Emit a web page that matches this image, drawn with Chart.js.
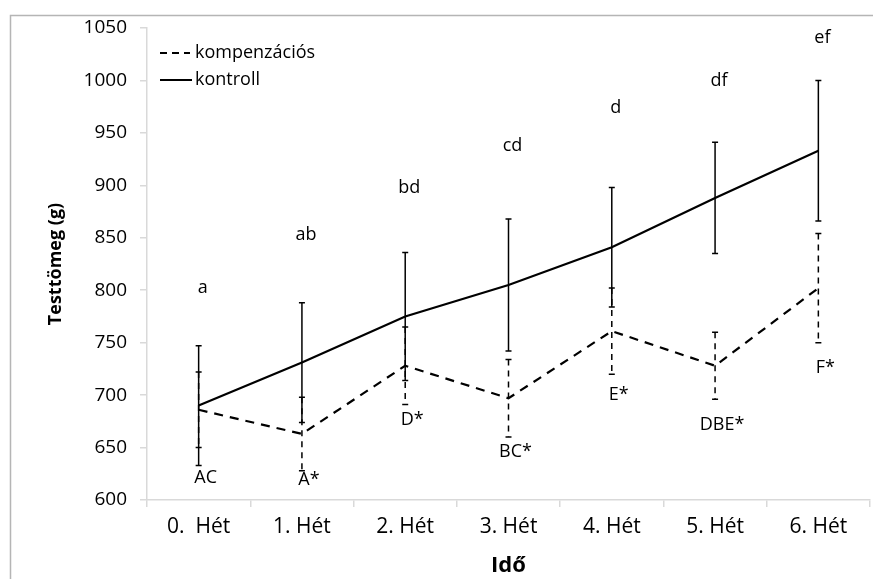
<!DOCTYPE html>
<html>
<head>
<meta charset="utf-8">
<script src="https://cdn.jsdelivr.net/npm/chart.js@4/dist/chart.umd.min.js"></script>
<style>
  html, body { margin: 0; padding: 0; background: #fff; }
</style>
</head>
<body>
<canvas id="myChart" width="873" height="579"></canvas>
<script>
var weeks = ['0.  Hét', '1. Hét', '2. Hét', '3. Hét', '4. Hét', '5. Hét', '6. Hét'];

var kompMean = [686, 663, 728, 697, 761, 728, 802];
var kompSd = [36, 35, 37, 37, 41, 32, 52];
var kontrollMean = [690, 731, 775, 805, 841, 888, 933];
var kontrollSd = [57, 57, 61, 63, 57, 53, 67];

// significance letters and the height (g) they sit at
var kontrollLetters = ['a', 'ab', 'bd', 'cd', 'd', 'df', 'ef'];
var kontrollLetterAt = [802, 853, 898, 938, 974, 1000, 1041];
var kompLetters = ['AC', 'A*', 'D*', 'BC*', 'E*', 'DBE*', 'F*'];
var kompLetterAt = [621, 619, 676, 646, 700, 672, 726];

var FONT = '"Open Sans", Lato, sans-serif';

var extras = {
  id: 'extras',
  beforeDraw: function (chart) {
    var c = chart.ctx;
    c.save();
    c.strokeStyle = '#b5b5b5';
    c.lineWidth = 1.5;
    c.beginPath();
    c.moveTo(10.5, 600);
    c.lineTo(10.5, 15.5);
    c.lineTo(880, 15.5);
    c.stroke();
    c.restore();
  },
  afterDatasetsDraw: function (chart) {
    var c = chart.ctx;
    var y = chart.scales.y;
    var sds = [kompSd, kontrollSd];
    c.save();
    // error bars
    chart.data.datasets.forEach(function (ds, d) {
      var meta = chart.getDatasetMeta(d);
      c.strokeStyle = '#000';
      c.lineWidth = 1.5;
      meta.data.forEach(function (pt, i) {
        var top = y.getPixelForValue(ds.data[i] + sds[d][i]);
        var bot = y.getPixelForValue(ds.data[i] - sds[d][i]);
        c.setLineDash(d === 0 ? [6, 5] : []);
        c.beginPath();
        c.moveTo(pt.x, top);
        c.lineTo(pt.x, bot);
        c.stroke();
        c.setLineDash([]);
        c.beginPath();
        c.moveTo(pt.x - 3, top);
        c.lineTo(pt.x + 3, top);
        c.moveTo(pt.x - 3, bot);
        c.lineTo(pt.x + 3, bot);
        c.stroke();
      });
    });
    // letters
    c.fillStyle = '#000';
    c.font = '18px ' + FONT;
    c.textAlign = 'center';
    c.textBaseline = 'middle';
    var meta1 = chart.getDatasetMeta(1);
    meta1.data.forEach(function (pt, i) {
      c.fillText(kontrollLetters[i], pt.x + 4, y.getPixelForValue(kontrollLetterAt[i]));
      c.fillText(kompLetters[i], pt.x + 7, y.getPixelForValue(kompLetterAt[i]));
    });
    // legend
    var a = chart.chartArea;
    c.lineWidth = 2;
    c.setLineDash([7, 5]);
    c.beginPath();
    c.moveTo(a.left + 13, 53);
    c.lineTo(a.left + 43, 53);
    c.stroke();
    c.setLineDash([]);
    c.beginPath();
    c.moveTo(a.left + 13, 80);
    c.lineTo(a.left + 45, 80);
    c.stroke();
    c.font = '18px ' + FONT;
    c.textAlign = 'left';
    c.fillText(chart.data.datasets[0].label, a.left + 48, 53);
    c.fillText(chart.data.datasets[1].label, a.left + 48, 80);
    c.restore();
  }
};

var ctx = document.getElementById('myChart');
var myChart = new Chart(ctx, {
  type: 'line',
  data: {
    labels: weeks,
    datasets: [
      {
        label: 'kompenzációs',
        data: kompMean,
        borderColor: '#000',
        borderWidth: 2.2,
        borderDash: [9, 7],
        pointRadius: 0,
        tension: 0
      },
      {
        label: 'kontroll',
        data: kontrollMean,
        borderColor: '#000',
        borderWidth: 2.2,
        pointRadius: 0,
        tension: 0
      }
    ]
  },
  options: {
    responsive: false,
    animation: false,
    layout: {
      padding: { left: 0, top: 28, right: 3, bottom: 0 }
    },
    plugins: {
      legend: { display: false },
      tooltip: { enabled: false }
    },
    scales: {
      x: {
        offset: true,
        grid: { offset: true, drawOnChartArea: false, color: '#d9d9d9', tickLength: 7, lineWidth: 1.5 },
        border: { color: '#d9d9d9', width: 1.5 },
        ticks: { color: '#000', padding: 7, font: { family: FONT, size: 21 }, maxRotation: 0 },
        title: {
          display: true,
          text: 'Idő',
          color: '#000',
          font: { family: FONT, size: 22, weight: 'bold', lineHeight: 1.1 },
          padding: { top: 0, bottom: 1 }
        },
        afterFit: function (s) { s.height = 79; }
      },
      y: {
        min: 600,
        max: 1050,
        grid: { drawOnChartArea: false, color: '#d9d9d9', tickLength: 7, lineWidth: 1.5 },
        border: { color: '#d9d9d9', width: 1.5 },
        ticks: {
          stepSize: 50,
          color: '#000',
          padding: 13,
          font: { family: FONT, size: 19 },
          callback: function (v) { return String(v); }
        },
        title: {
          display: true,
          text: 'Testtömeg (g)',
          color: '#000',
          font: { family: FONT, size: 18, weight: 'bold', lineHeight: 1.2 },
          padding: { top: 45, bottom: 0 }
        },
        afterFit: function (s) { s.width = 147; }
      }
    }
  },
  plugins: [extras]
});
</script>
</body>
</html>
